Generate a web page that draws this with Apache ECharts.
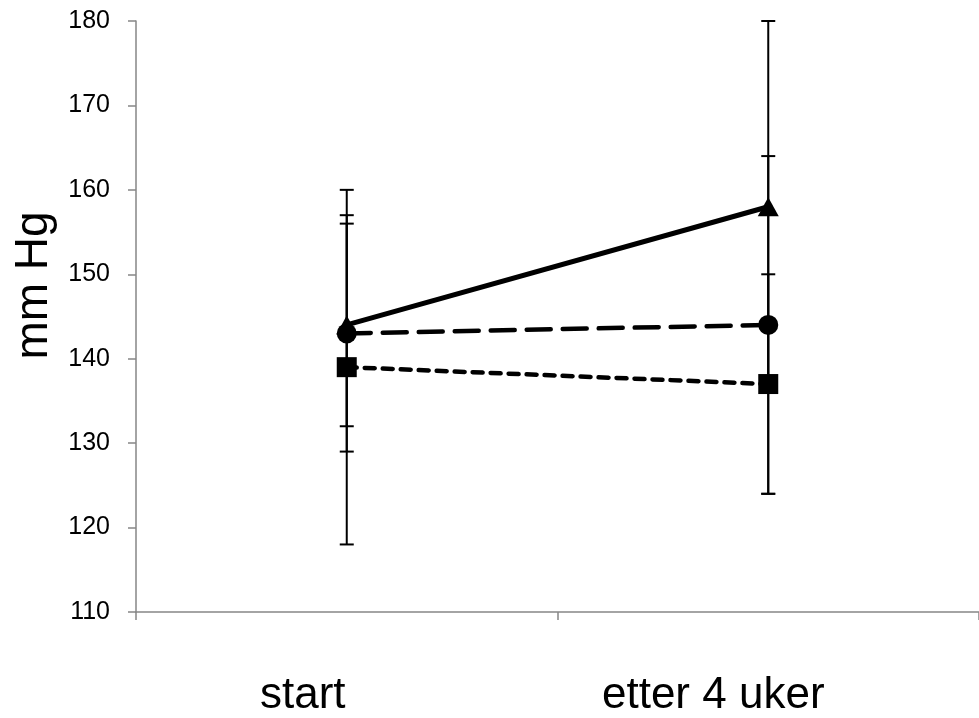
<!DOCTYPE html>
<html><head><meta charset="utf-8">
<script src="https://cdn.jsdelivr.net/npm/echarts@6/dist/echarts.min.js"></script>
<style>html,body{margin:0;padding:0;background:#fff}#c{width:979px;height:718px}</style>
</head><body><div id="c"></div>
<script>
// ---- data ----
const categories = ['start', 'etter 4 uker'];
const triMean = [144, 158];
const triErr = [12, 22];
const circMean = [143, 144];
const circErr = [14, 20];
const sqMean = [139, 137];
const sqErr = [21, 13];
const yMin = 110, yMax = 180, yStep = 10;

function errData(mean, err) {
  return mean.map((m, i) => [i, m - err[i], m + err[i]]);
}
function errRender(params, api) {
  const x = api.value(0), lo = api.value(1), hi = api.value(2);
  const p1 = api.coord([x, hi]), p2 = api.coord([x, lo]);
  const hw = 7, st = {stroke: '#000', lineWidth: 2};
  return {type: 'group', children: [
    {type: 'line', shape: {x1: p1[0], y1: p1[1], x2: p2[0], y2: p2[1]}, style: st},
    {type: 'line', shape: {x1: p1[0] - hw, y1: p1[1], x2: p1[0] + hw, y2: p1[1]}, style: st},
    {type: 'line', shape: {x1: p2[0] - hw, y1: p2[1], x2: p2[0] + hw, y2: p2[1]}, style: st}
  ]};
}
const errSeries = (mean, err) => ({
  type: 'custom', renderItem: errRender, data: errData(mean, err),
  encode: {x: 0, y: [1, 2]}, z: 1, clip: false, silent: true
});
const FONT = 'Liberation Sans, Arial, sans-serif';

const chart = echarts.init(document.getElementById('c'));
chart.setOption({
  animation: false,
  backgroundColor: '#fff',
  grid: {left: 136, top: 21, right: -3, bottom: 105, containLabel: false},
  xAxis: {
    type: 'category', data: categories, boundaryGap: true,
    axisLine: {lineStyle: {color: '#868686', width: 1.5}},
    axisTick: {show: true, length: 8, lineStyle: {color: '#868686', width: 1.5}},
    axisLabel: {
      interval: 0, margin: 62, color: '#000', fontSize: 44, fontFamily: FONT,
      formatter: v => '{' + (v === 'start' ? 'a' : 'b') + '|' + v + '}',
      rich: {
        a: {fontSize: 44, fontFamily: FONT, color: '#000', padding: [0, 88, 0, 0]},
        b: {fontSize: 44, fontFamily: FONT, color: '#000', padding: [0, 110, 0, 0]}
      }
    }
  },
  yAxis: {
    type: 'value', min: yMin, max: yMax, interval: yStep,
    name: 'mm Hg', nameLocation: 'middle', nameRotate: 90, nameGap: 70,
    nameTextStyle: {fontSize: 46, color: '#000', fontFamily: FONT, padding: [0, 0, 0, 62]},
    axisLine: {show: true, lineStyle: {color: '#868686', width: 1.5}},
    axisTick: {show: true, length: 8, lineStyle: {color: '#868686', width: 1.5}},
    splitLine: {show: false},
    axisLabel: {margin: 26, color: '#000', fontSize: 25, fontFamily: FONT}
  },
  series: [
    errSeries(triMean, triErr),
    errSeries(circMean, circErr),
    errSeries(sqMean, sqErr),
    {type: 'line', data: triMean, symbol: 'triangle', symbolSize: [21, 19],
     lineStyle: {color: '#000', width: 5, type: 'solid'}, itemStyle: {color: '#000'}, z: 3},
    {type: 'line', data: circMean, symbol: 'circle', symbolSize: 20,
     lineStyle: {color: '#000', width: 4.5, type: [24, 12], cap: 'round'}, itemStyle: {color: '#000'}, z: 4},
    {type: 'line', data: sqMean, symbol: 'rect', symbolSize: 20,
     lineStyle: {color: '#000', width: 4.5, type: [10, 8], cap: 'round'}, itemStyle: {color: '#000'}, z: 5}
  ]
});
</script></body></html>
